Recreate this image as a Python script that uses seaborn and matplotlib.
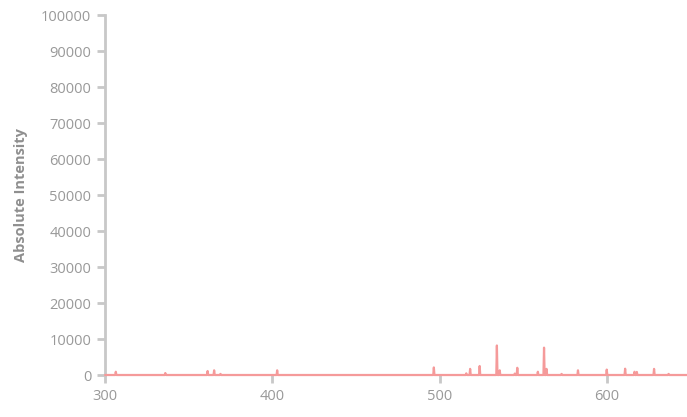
import numpy as np
import pandas as pd
import matplotlib
matplotlib.use("Agg")
import matplotlib.pyplot as plt
import seaborn as sns

# peak list (m/z, absolute intensity)
mz = [306.4, 336.0, 361.3, 365.2, 369.0, 402.9, 496.6, 516.0, 518.3, 524.0,
      534.3, 536.0, 545.0, 546.5, 558.8, 562.5, 564.0, 573.0, 582.8, 600.0,
      611.0, 616.6, 618.0, 628.3, 637.0]
intensity = [900, 550, 1100, 1300, 300, 1300, 2100, 460, 1700, 2500,
             8200, 1300, 400, 2000, 900, 7600, 1700, 300, 1300, 1500,
             1750, 900, 850, 1700, 300]

x_ticks = [300, 400, 500, 600]
y_ticks = list(range(0, 100001, 10000))

# stick profile: each peak is a narrow triangle on a zero baseline
half = 0.35
px, py = [300.0], [0.0]
for m, h in zip(mz, intensity):
    px += [m - half, m, m + half]
    py += [0, h, 0]
px.append(650.0)
py.append(0.0)
spec = pd.DataFrame({"mz": px, "intensity": py})

sns.set_style("white")
plt.rcParams["font.family"] = ["Open Sans", "DejaVu Sans"]

fig = plt.figure(figsize=(6.87, 4.17), dpi=100)
ax = fig.add_axes([0.153, 0.1007, 0.847, 0.8633])

sns.lineplot(data=spec, x="mz", y="intensity", sort=False, estimator=None,
             color="#f59a9a", linewidth=1.6, ax=ax, clip_on=False, zorder=3)

ax.set_xlim(300, 648)
ax.set_ylim(0, 100000)
ax.set_xticks(x_ticks)
ax.set_yticks(y_ticks)

grey = "#c8c8c8"
for side in ["top", "right"]:
    ax.spines[side].set_visible(False)
ax.spines["left"].set_color(grey)
ax.spines["left"].set_linewidth(2)
ax.spines["bottom"].set_visible(False)
ax.tick_params(axis="both", colors=grey, width=2, length=6, direction="out",
               labelcolor="#999999", labelsize=10.5, pad=4)
ax.tick_params(axis="both", which="both", left=True, bottom=True)

ax.set_xlabel("")
ax.set_ylabel("Absolute Intensity", color="#8f8f8f", fontsize=10.5,
              fontweight="bold", labelpad=9)

fig.savefig("out.png", dpi=100)
